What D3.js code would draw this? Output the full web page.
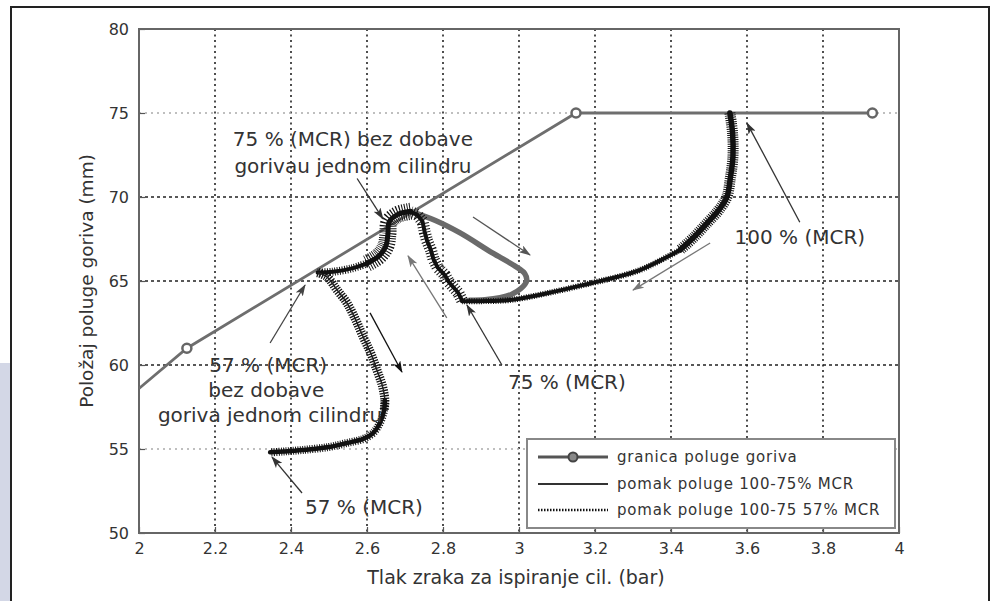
<!DOCTYPE html>
<html>
<head>
<meta charset="utf-8">
<script src="https://cdn.jsdelivr.net/npm/d3@7/dist/d3.min.js"></script>
<style>
  html, body { margin: 0; padding: 0; background: #fff; }
  svg { display: block; }
  text { font-family: "DejaVu Sans", "Liberation Sans", sans-serif; fill: #333; }
</style>
</head>
<body>
<svg id="chart" width="992" height="601"></svg>
<script>
// Axis ticks
const xTicks = [2, 2.2, 2.4, 2.6, 2.8, 3, 3.2, 3.4, 3.6, 3.8, 4];
const yTicks = [50, 55, 60, 65, 70, 75, 80];

// Fuel-rack limit (granica poluge goriva)
const limitX = [2.0, 2.126, 3.15, 3.93];
const limitY = [58.6, 61.0, 75.0, 75.0];
const limitMarkerX = [2.126, 3.15, 3.93];
const limitMarkerY = [61.0, 75.0, 75.0];

// 100 % -> 75 % MCR rack travel
const dropX = [3.555, 3.562, 3.563, 3.556, 3.547, 3.525, 3.495, 3.46, 3.424, 3.37, 3.318, 3.26, 3.195, 3.08, 2.976, 2.9, 2.85];
const dropY = [75.0, 73.8, 72.4, 71.1, 70.0, 69.2, 68.45, 67.6, 66.85, 66.2, 65.65, 65.25, 64.9, 64.3, 63.87, 63.8, 63.8];

// 75 % MCR loop after cutting fuel to one cylinder
const loopX = [2.72, 2.78, 2.845, 2.93, 2.985, 3.015, 3.02, 3.005, 2.98, 2.95, 2.91, 2.87];
const loopY = [69.1, 68.6, 67.86, 66.67, 65.95, 65.45, 65.0, 64.55, 64.2, 64.0, 63.88, 63.85];

// 75 % MCR stepping climb
const stepX = [2.85, 2.84, 2.815, 2.805, 2.786, 2.775, 2.768, 2.758, 2.752, 2.746, 2.732, 2.715];
const stepY = [63.85, 64.3, 64.95, 65.35, 65.8, 66.3, 66.85, 67.4, 67.9, 68.55, 68.95, 69.1];

// Slide from 75 % cut-out point down to the 57 % start
const slideX = [2.715, 2.68, 2.658, 2.655, 2.65, 2.632, 2.6, 2.56, 2.51, 2.47];
const slideY = [69.15, 68.95, 68.5, 67.8, 67.1, 66.5, 66.05, 65.75, 65.55, 65.5];

// 57 % MCR rack travel
const fallX = [2.47, 2.495, 2.52, 2.547, 2.57, 2.59, 2.61, 2.626, 2.64, 2.647, 2.645, 2.635, 2.616, 2.59, 2.547, 2.5, 2.43, 2.38, 2.345];
const fallY = [65.5, 65.24, 64.5, 63.7, 62.7, 61.67, 60.7, 59.7, 58.8, 57.9, 57.3, 56.6, 55.95, 55.6, 55.36, 55.12, 54.94, 54.85, 54.8];

// Legend entries
const legendLabels = ["granica poluge goriva", "pomak poluge 100-75% MCR", "pomak poluge 100-75 57% MCR"];

// Annotation texts
const noteLines = [
  { t: "75 % (MCR) bez dobave", x: 2.563, y: 73.45 },
  { t: "gorivau jednom cilindru", x: 2.563, y: 71.85 },
  { t: "100 % (MCR)", x: 3.739, y: 67.6 },
  { t: "75 % (MCR)", x: 3.126, y: 58.99 },
  { t: "57 % (MCR)", x: 2.34, y: 60.0 },
  { t: "bez dobave", x: 2.335, y: 58.5 },
  { t: "goriva jednom cilindru", x: 2.345, y: 57.0 },
  { t: "57 % (MCR)", x: 2.592, y: 51.55 }
];
const arrows = [
  { x1: 2.574, y1: 71.1, x2: 2.642, y2: 68.7, c: "#333" },
  { x1: 3.739, y1: 68.5, x2: 3.6, y2: 74.4, c: "#333" },
  { x1: 3.503, y1: 67.26, x2: 3.3, y2: 64.46, c: "#777" },
  { x1: 2.879, y1: 68.81, x2: 3.029, y2: 66.55, c: "#555" },
  { x1: 2.955, y1: 60.0, x2: 2.863, y2: 63.57, c: "#333" },
  { x1: 2.81, y1: 62.8, x2: 2.708, y2: 66.49, c: "#777" },
  { x1: 2.345, y1: 61.31, x2: 2.437, y2: 64.76, c: "#444" },
  { x1: 2.608, y1: 63.1, x2: 2.692, y2: 59.58, c: "#111" },
  { x1: 2.429, y1: 52.38, x2: 2.35, y2: 54.52, c: "#333" }
];

const svg = d3.select("#chart");
const W = 992, H = 601;
const plot = { left: 139, top: 29, right: 899, bottom: 533 };

// Page frame and side strip
svg.append("rect").attr("x", 0).attr("y", 363).attr("width", 10).attr("height", H - 363).attr("fill", "#d3d7e6");
svg.append("rect").attr("x", 11).attr("y", 7).attr("width", 978).attr("height", 610)
  .attr("fill", "#fff").attr("stroke", "#222").attr("stroke-width", 2);

const x = d3.scaleLinear().domain([2, 4]).range([plot.left, plot.right]);
const y = d3.scaleLinear().domain([50, 80]).range([plot.bottom, plot.top]);

const defs = svg.append("defs");
defs.append("clipPath").attr("id", "clip").append("rect")
  .attr("x", plot.left).attr("y", plot.top)
  .attr("width", plot.right - plot.left).attr("height", plot.bottom - plot.top);

// Grid
const grid = svg.append("g");
xTicks.slice(1, -1).forEach(t => {
  grid.append("line").attr("x1", x(t)).attr("x2", x(t)).attr("y1", plot.top).attr("y2", plot.bottom)
    .attr("stroke", "#222").attr("stroke-width", 1.6).attr("stroke-dasharray", "2,3.5");
});
yTicks.slice(1, -1).forEach(t => {
  const light = (t === 75 || t === 55);
  grid.append("line").attr("x1", plot.left).attr("x2", plot.right).attr("y1", y(t)).attr("y2", y(t))
    .attr("stroke", light ? "#aaa" : "#222").attr("stroke-width", 1.6)
    .attr("stroke-dasharray", light ? "2,4" : "3,3");
});

// Axes
const xAxis = svg.append("g").attr("transform", `translate(0,${plot.bottom})`)
  .call(d3.axisBottom(x).tickValues(xTicks).tickSize(-6).tickPadding(10).tickFormat(d3.format("")));
const yAxis = svg.append("g").attr("transform", `translate(${plot.left},0)`)
  .call(d3.axisLeft(y).tickValues(yTicks).tickSize(-6).tickPadding(10));
[xAxis, yAxis].forEach(a => {
  a.select(".domain").remove();
  a.selectAll(".tick line").attr("stroke", "#555").attr("stroke-width", 1.2);
  a.selectAll(".tick text").attr("font-size", 16).attr("font-family", "DejaVu Sans").attr("fill", "#3a3a3a");
});
svg.append("rect").attr("x", plot.left).attr("y", plot.top)
  .attr("width", plot.right - plot.left).attr("height", plot.bottom - plot.top)
  .attr("fill", "none").attr("stroke", "#666").attr("stroke-width", 2);

// Axis titles
svg.append("text").attr("x", 516).attr("y", 584).attr("text-anchor", "middle")
  .attr("font-size", 19).attr("fill", "#3a3a3a").text("Tlak zraka za ispiranje cil. (bar)");
svg.append("text").attr("transform", `translate(93,${(plot.top + plot.bottom) / 2}) rotate(-90)`)
  .attr("text-anchor", "middle").attr("font-size", 18.5).attr("fill", "#3a3a3a").text("Položaj poluge goriva (mm)");

const zip = (xs, ys) => xs.map((v, i) => [v, ys[i]]);
const smooth = d3.line().x(d => x(d[0])).y(d => y(d[1])).curve(d3.curveCatmullRom.alpha(0.5));
const straight = d3.line().x(d => x(d[0])).y(d => y(d[1]));

const g = svg.append("g").attr("clip-path", "url(#clip)");

// Rough, bristly trace: a core stroke plus a dense comb of short ticks
function bristly(pts, core, hair, color, gap, lineGen) {
  const d = (lineGen || smooth)(pts);
  g.append("path").attr("d", d).attr("fill", "none").attr("stroke", color)
    .attr("stroke-width", hair).attr("stroke-dasharray", `1,${gap}`);
  g.append("path").attr("d", d).attr("fill", "none").attr("stroke", color)
    .attr("stroke-width", core).attr("stroke-linecap", "round");
}

// Limit line
g.append("path").attr("d", straight(zip(limitX, limitY))).attr("fill", "none")
  .attr("stroke", "#6e6e6e").attr("stroke-width", 2.8);

// Gray loop at 75 %
g.append("path").attr("d", smooth(zip(loopX, loopY))).attr("fill", "none")
  .attr("stroke", "#6a6a6a").attr("stroke-width", 5.5).attr("stroke-linecap", "round");

// 100 % -> 75 % travel
const drop = zip(dropX, dropY);
bristly(drop.slice(0, 9), 5.5, 11, "#111", 1.2);
bristly(drop.slice(8), 4, 6, "#111", 1.4);

// Stepping climb and slide
bristly(zip(stepX, stepY), 4, 12, "#111", 2.0, d3.line().x(d => x(d[0])).y(d => y(d[1])));
bristly(zip(slideX, slideY).slice(0, 7), 5, 17, "#111", 1.4);
bristly(zip(slideX, slideY).slice(6), 4, 8, "#111", 1.5);

// 57 % travel: hatched upper band, solid lower hook
const fall = zip(fallX, fallY);
g.append("path").attr("d", smooth(fall.slice(0, 11))).attr("fill", "none")
  .attr("stroke", "#111").attr("stroke-width", 9).attr("stroke-dasharray", "1.3,1.3");
g.append("path").attr("d", smooth(fall.slice(0, 11))).attr("fill", "none")
  .attr("stroke", "#222").attr("stroke-width", 1.5);
bristly(fall.slice(9), 4.5, 8, "#111", 1.4);

// Limit markers
g.selectAll("circle.lim").data(zip(limitMarkerX, limitMarkerY)).enter().append("circle")
  .attr("cx", d => x(d[0])).attr("cy", d => y(d[1])).attr("r", 4.5)
  .attr("fill", "#fff").attr("stroke", "#666").attr("stroke-width", 2.5);

// Arrows
const heads = {};
arrows.forEach(a => {
  const id = "ah" + a.c.replace("#", "");
  if (!heads[id]) {
    heads[id] = true;
    defs.append("marker").attr("id", id).attr("viewBox", "0 0 12 8").attr("refX", 11).attr("refY", 4)
      .attr("markerWidth", 12).attr("markerHeight", 8).attr("markerUnits", "userSpaceOnUse")
      .attr("orient", "auto")
      .append("path").attr("d", "M0,0 L12,4 L0,8 L3,4 Z").attr("fill", a.c);
  }
  svg.append("line").attr("x1", x(a.x1)).attr("y1", y(a.y1)).attr("x2", x(a.x2)).attr("y2", y(a.y2))
    .attr("stroke", a.c).attr("stroke-width", 1.3).attr("marker-end", `url(#${id})`);
});

// Annotation text
noteLines.forEach(n => {
  svg.append("text").attr("x", x(n.x)).attr("y", y(n.y)).attr("dy", "0.35em")
    .attr("text-anchor", "middle").attr("font-size", 20).attr("fill", "#3a3a3a").text(n.t);
});

// Legend
const lg = svg.append("g");
lg.append("rect").attr("x", 527).attr("y", 439).attr("width", 368).attr("height", 89)
  .attr("fill", "#fff").attr("stroke", "#888").attr("stroke-width", 2);
const rowY = [457, 484, 510];
legendLabels.forEach((lab, i) => {
  const ly = rowY[i];
  const ln = lg.append("line").attr("x1", 538).attr("x2", 608).attr("y1", ly).attr("y2", ly);
  if (i === 0) {
    ln.attr("stroke", "#555").attr("stroke-width", 3);
    lg.append("circle").attr("cx", 573).attr("cy", ly).attr("r", 4.5)
      .attr("fill", "#888").attr("stroke", "#444").attr("stroke-width", 2);
  } else if (i === 1) {
    ln.attr("stroke", "#333").attr("stroke-width", 1.8);
  } else {
    ln.attr("stroke", "#111").attr("stroke-width", 2.5).attr("stroke-dasharray", "1.5,1.5");
  }
  lg.append("text").attr("x", 617).attr("y", ly).attr("dy", "0.35em").attr("font-size", 15)
    .attr("letter-spacing", 0.8).attr("fill", "#333").text(lab);
});
</script>
</body>
</html>
